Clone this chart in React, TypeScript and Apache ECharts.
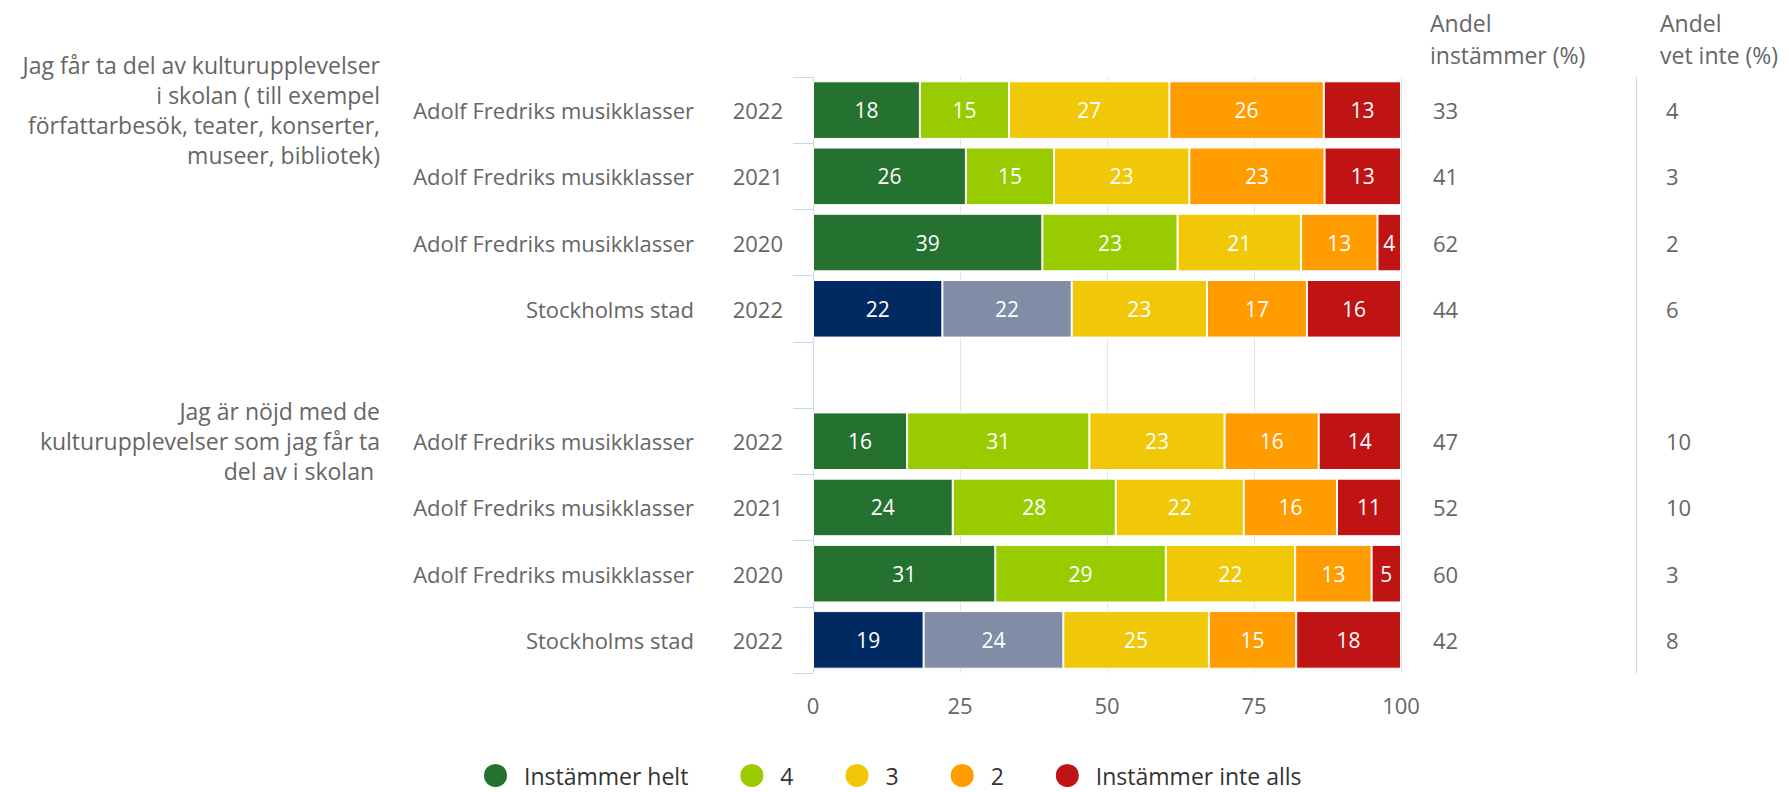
import React, { useEffect, useRef } from "react";
import * as echarts from "echarts";

const questions = [
  "Jag får ta del av kulturupplevelser\ni skolan ( till exempel\nförfattarbesök, teater, konserter,\nmuseer, bibliotek)",
  "",
  "",
  "",
  "",
  "Jag är nöjd med de\nkulturupplevelser som jag får ta\ndel av i skolan ",
  "",
  "",
  "",
];
const units = [
  "Adolf Fredriks musikklasser",
  "Adolf Fredriks musikklasser",
  "Adolf Fredriks musikklasser",
  "Stockholms stad",
  "",
  "Adolf Fredriks musikklasser",
  "Adolf Fredriks musikklasser",
  "Adolf Fredriks musikklasser",
  "Stockholms stad",
];
const years = ["2022", "2021", "2020", "2022", "", "2022", "2021", "2020", "2022"];
const seriesNames = ["Instämmer helt", "4", "3", "2", "Instämmer inte alls"];
const helt = [18, 26, 39, 22, null, 16, 24, 31, 19];
const fyra = [15, 15, 23, 22, null, 31, 28, 29, 24];
const tre = [27, 23, 21, 23, null, 23, 22, 22, 25];
const tva = [26, 23, 13, 17, null, 16, 16, 13, 15];
const inteAlls = [13, 13, 4, 16, null, 14, 11, 5, 18];
const andelInstammer = [33, 41, 62, 44, null, 47, 52, 60, 42];
const andelVetInte = [4, 3, 2, 6, null, 10, 10, 3, 8];
const xMin = 0;
const xMax = 100;
const xInterval = 25;

const colors = ["#257130", "#99cc00", "#f0c808", "#ff9c00", "#c01414"];
const cityColors = ["#002b62", "#818ca7"];
const FONT = '"Open Sans", sans-serif';
const TEXT = "#666666";

export default function App() {
  const ref = useRef<HTMLDivElement>(null);
  useEffect(() => {
    if (!ref.current) return;
    const chart = echarts.init(ref.current, null, { renderer: "svg" });
    const raw = [helt, fyra, tre, tva, inteAlls];
    const rowIds = years.map((_, i) => "r" + i);
    const totals = rowIds.map((_, i) =>
      raw.reduce((s, arr) => s + (arr[i] == null ? 0 : (arr[i] as number)), 0)
    );
    const series = raw.map((arr, s) => ({
      name: seriesNames[s],
      type: "bar",
      stack: "total",
      yAxisIndex: 0,
      barCategoryGap: "13%",
      itemStyle: { color: colors[s], borderColor: "#ffffff", borderWidth: 1 },
      label: {
        show: true,
        position: "inside",
        color: "#ffffff",
        fontSize: 21,
        fontFamily: FONT,
        formatter: (p: any) => {
          const v = raw[p.seriesIndex][p.dataIndex];
          return v == null ? "" : String(v);
        },
      },
      emphasis: { disabled: true },
      data: arr.map((v, i) => {
        if (v == null) return null;
        const item: any = { value: ((v as number) / totals[i]) * 100 };
        if (units[i] === "Stockholms stad" && s < 2) {
          item.itemStyle = { color: cityColors[s] };
        }
        return item;
      }),
    }));
    const labelBase = { interval: 0, color: TEXT, fontSize: 22, fontFamily: FONT };
    const baseY: any = {
      type: "category",
      data: rowIds,
      inverse: true,
      gridIndex: 0,
      axisLine: { show: false },
      axisTick: { show: false },
      splitLine: { show: false },
    };
    const fmt = (arr: (number | null)[]) => (_v: any, i: number) =>
      arr[i] == null ? "" : String(arr[i]);
    const head = (text: string, x: number, y: number) => ({
      type: "text",
      x,
      y,
      style: { text, fill: TEXT, fontSize: 23, fontFamily: FONT, verticalAlign: "middle" },
    });
    chart.setOption({
      animation: false,
      grid: { left: 813, right: 388, top: 77, bottom: 119, containLabel: false },
      xAxis: {
        type: "value",
        min: xMin,
        max: xMax,
        interval: xInterval,
        axisLine: { show: false },
        axisTick: { show: false },
        splitLine: { show: true, lineStyle: { color: "#e6e6e6", width: 1 } },
        axisLabel: { ...labelBase, margin: 21 },
      },
      yAxis: [
        {
          ...baseY,
          position: "left",
          axisLine: { show: true, lineStyle: { color: "#ccd6eb", width: 1 } },
          axisTick: { show: true, length: 20, lineStyle: { color: "#ccd6eb" } },
          axisLabel: { ...labelBase, margin: 30, formatter: (_v: any, i: number) => years[i] },
        },
        {
          ...baseY,
          position: "left",
          axisLabel: { ...labelBase, margin: 119, formatter: (_v: any, i: number) => units[i] },
        },
        {
          ...baseY,
          position: "left",
          axisLabel: {
            ...labelBase,
            fontSize: 23,
            margin: 433,
            align: "right",
            lineHeight: 30,
            formatter: (_v: any, i: number) => questions[i],
          },
        },
        {
          ...baseY,
          position: "right",
          axisLabel: { ...labelBase, margin: 32, formatter: fmt(andelInstammer) },
        },
        {
          ...baseY,
          position: "right",
          axisLabel: { ...labelBase, margin: 265, formatter: fmt(andelVetInte) },
        },
        {
          ...baseY,
          position: "right",
          offset: 235,
          axisLine: { show: true, lineStyle: { color: "#ccd6eb", width: 1 } },
          axisLabel: { show: false },
        },
      ],
      legend: {
        data: seriesNames,
        icon: "circle",
        itemWidth: 25,
        itemHeight: 25,
        itemGap: 50,
        left: 482,
        top: 762,
        padding: 0,
        selectedMode: false,
        textStyle: {
          color: "#333333",
          fontSize: 23,
          lineHeight: 24,
          fontFamily: FONT,
          padding: [0, 0, 0, 11],
        },
      },
      graphic: [
        head("Andel", 1430, 23),
        head("instämmer (%)", 1430, 55),
        head("Andel", 1660, 23),
        head("vet inte (%)", 1660, 55),
      ],
      series,
    });
    return () => chart.dispose();
  }, []);
  return (
    <div
      ref={ref}
      style={{ position: "fixed", left: 0, top: 0, width: 1789, height: 792, background: "#ffffff" }}
    />
  );
}
